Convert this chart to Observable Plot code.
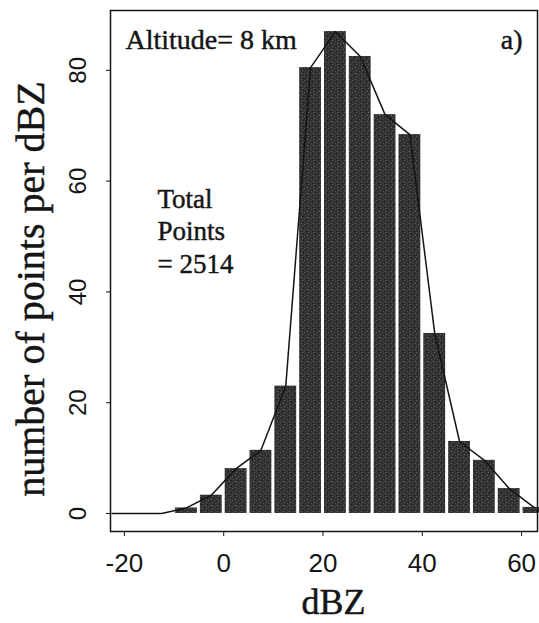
<!DOCTYPE html>
<html><head><meta charset="utf-8">
<script src="https://cdn.jsdelivr.net/npm/d3@7"></script>
<script src="https://cdn.jsdelivr.net/npm/@observablehq/plot@0.6"></script>
<style>body{margin:0;background:#fff}</style>
</head><body><div id="chart"></div>
<script>
// Histogram bins (dBZ) and counts (number of points per dBZ)
const binStart = [-10, -5, 0, 5, 10, 15, 20, 25, 30, 35, 40, 45, 50, 55, 60];
const binEnd   = [-5, 0, 5, 10, 15, 20, 25, 30, 35, 40, 45, 50, 55, 60, 65];
const counts   = [1, 3.3, 8.1, 11.4, 23, 80.5, 87, 82.5, 72, 68.4, 32.5, 13, 9.6, 4.5, 1.1];
// Overlaid line (bin centres)
const lineX = [-22.5, -17.5, -12.5, -7.5, -2.5, 2.5, 7.5, 12.5, 17.5, 22.5, 27.5, 32.5, 37.5, 42.5, 47.5, 52.5, 57.5, 62.5];
const lineY = [0, 0, 0, 1, 3.3, 8.1, 11.4, 23, 80.5, 87, 82.5, 72, 68.4, 32.5, 13, 9.6, 4.5, 1.1];
const xTicks = [-20, 0, 20, 40, 60];
const yTicks = [0, 20, 40, 60, 80];

const bars = binStart.map((s, i) => ({x1: s, x2: binEnd[i], y: counts[i]}));
const pts = lineX.map((x, i) => ({x, y: lineY[i]}));
const serif = "'Liberation Serif', 'Times New Roman', serif";
const ink = "#151515";
const heavy = {stroke: ink, strokeWidth: 0.45};

const chart = Plot.plot({
  width: 539, height: 623,
  marginLeft: 110, marginRight: 2, marginTop: 10, marginBottom: 92,
  x: {domain: [-22.8, 63.2]},
  y: {domain: [-3.25, 90.8]},
  style: {fontFamily: "'Liberation Sans', Arial, sans-serif", fontSize: "26px", color: ink, background: "#fff"},
  marks: [
    Plot.rect(bars, {x1: "x1", x2: "x2", y1: 0, y2: "y", fill: "url(#speck)", insetLeft: 1.5, insetRight: 1.5}),
    Plot.line(pts, {x: "x", y: "y", stroke: ink, strokeWidth: 1.5}),
    Plot.frame({stroke: ink, strokeWidth: 1.5}),
    Plot.axisX({ticks: xTicks, tickSize: 5, tickPadding: 17, label: null, fontSize: 26,
      tickFormat: d => String(d)}),
    Plot.axisY({ticks: yTicks, tickSize: 4, tickFormat: () => "", label: null}),
    Plot.text(yTicks, {y: d => d, text: d => String(d), frameAnchor: "left", dx: -25, rotate: -90,
      textAnchor: "middle", lineAnchor: "bottom", fontSize: 24, fill: ink}),
    Plot.text(["Altitude= 8 km"], {frameAnchor: "top-left", dx: 15, dy: 38, textAnchor: "start",
      lineAnchor: "bottom", fontFamily: serif, fontSize: 28, fill: ink, ...heavy}),
    Plot.text(["a)"], {frameAnchor: "top-right", dx: -15, dy: 38, textAnchor: "end",
      lineAnchor: "bottom", fontFamily: serif, fontSize: 28, fill: ink, ...heavy}),
    Plot.text(["Total\nPoints\n= 2514"], {frameAnchor: "top-left", dx: 47, dy: 262, textAnchor: "start",
      lineAnchor: "bottom", lineHeight: 1.19, fontFamily: serif, fontSize: 27, fill: ink, ...heavy}),
    Plot.text(["dBZ"], {frameAnchor: "bottom", dx: 9.5, dy: 82, textAnchor: "middle",
      lineAnchor: "bottom", fontFamily: serif, fontSize: 36, fill: ink, ...heavy}),
    Plot.text(["number of points per dBZ"], {frameAnchor: "left", dx: -67, dy: 18, rotate: -90,
      textAnchor: "middle", lineAnchor: "bottom", fontFamily: serif, fontSize: 40, fill: ink, ...heavy})
  ]
});

// speckled dark fill resembling the scanned halftone
const ns = "http://www.w3.org/2000/svg";
const defs = document.createElementNS(ns, "defs");
const pat = document.createElementNS(ns, "pattern");
pat.setAttribute("id", "speck");
pat.setAttribute("width", "6");
pat.setAttribute("height", "6");
pat.setAttribute("patternUnits", "userSpaceOnUse");
const cells = [[0,0,6,6,"#323232"],[1,1,1,1,"#6a6a6a"],[4,2,1,1,"#555"],[2,4,1,1,"#5e5e5e"],[5,5,1,1,"#4a4a4a"],[3,0,1,1,"#1e1e1e"],[0,3,1,1,"#222"]];
for (const [x, y, w, h, c] of cells) {
  const r = document.createElementNS(ns, "rect");
  r.setAttribute("x", x); r.setAttribute("y", y);
  r.setAttribute("width", w); r.setAttribute("height", h);
  r.setAttribute("fill", c);
  pat.appendChild(r);
}
defs.appendChild(pat);
chart.insertBefore(defs, chart.firstChild);
document.getElementById("chart").appendChild(chart);
</script>
</body></html>
